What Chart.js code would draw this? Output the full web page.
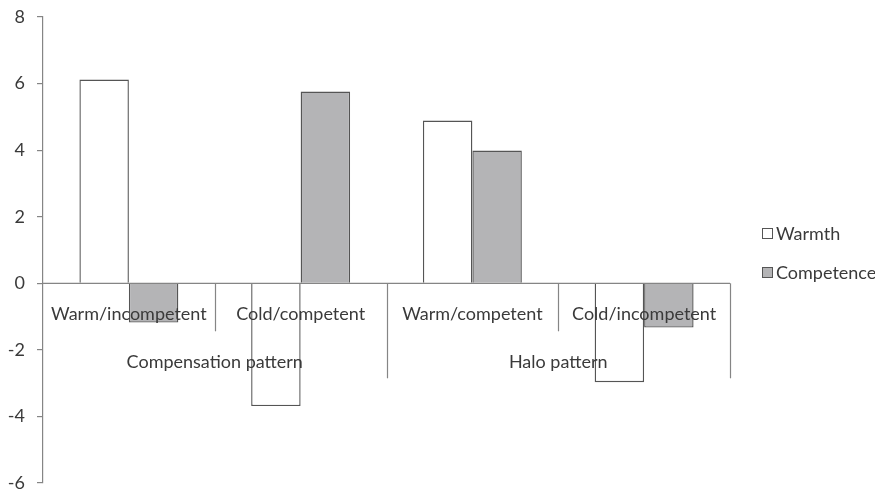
<!DOCTYPE html>
<html><head><meta charset="utf-8">
<script src="https://cdn.jsdelivr.net/npm/chart.js@4.4.1/dist/chart.umd.min.js"></script>
<style>html,body{margin:0;padding:0;background:#fff}#wrap{width:875px;height:493px;position:relative}</style>
</head><body><div id="wrap"><canvas id="c"></canvas></div>
<script>
const categories = ["Warm/incompetent", "Cold/competent", "Warm/competent", "Cold/incompetent"];
const groups = ["Compensation pattern", "Halo pattern"];
const warmth = [6.12, -3.69, 4.89, -2.97];
const competence = [-1.18, 5.76, 3.99, -1.33];
const yTicks = [-6, -4, -2, 0, 2, 4, 6, 8];

const FONT = "Lato, 'Open Sans', sans-serif";
const AXIS = '#858585';
const TEXT = '#3a3a3a';

const overlay = {
  id: 'overlay',
  afterDatasetsDraw(chart) {
    const {ctx, chartArea: a, scales: {x, y}} = chart;
    const y0 = y.getPixelForValue(0);
    ctx.save();
    ctx.strokeStyle = AXIS; ctx.lineWidth = 1.2;
    ctx.beginPath(); ctx.moveTo(a.left, y0); ctx.lineTo(a.right, y0); ctx.stroke();
    const n = categories.length;
    const cw = (a.right - a.left) / n;
    for (let i = 1; i <= n; i++) {
      const px = Math.round(a.left + cw * i) + 0.5;
      const long = (i % 2 === 0);
      ctx.beginPath(); ctx.moveTo(px, y0); ctx.lineTo(px, y0 + (long ? 95 : 48)); ctx.stroke();
    }
    ctx.fillStyle = TEXT;
    ctx.font = '18px ' + FONT;
    ctx.textAlign = 'center'; ctx.textBaseline = 'middle';
    categories.forEach((c, i) => ctx.fillText(c, x.getPixelForValue(i), y0 + 31));
    groups.forEach((g, gi) => {
      const cx = a.left + cw * (gi * 2 + 1);
      ctx.fillText(g, cx, y0 + 79);
    });
    const items = chart.data.datasets;
    ctx.textAlign = 'left';
    items.forEach((d, i) => {
      const ly = 234 + i * 39;
      ctx.fillStyle = d.backgroundColor; ctx.strokeStyle = '#555'; ctx.lineWidth = 1;
      ctx.fillRect(762.5, ly - 5.5, 10, 10); ctx.strokeRect(762.5, ly - 5.5, 10, 10);
      ctx.fillStyle = TEXT;
      ctx.fillText(d.label, 776, ly);
    });
    ctx.restore();
  }
};

new Chart(document.getElementById('c'), {
  type: 'bar',
  data: {
    labels: categories,
    datasets: [
      {label: 'Warmth', data: warmth, backgroundColor: '#ffffff', borderColor: '#555555', borderWidth: 1.4},
      {label: 'Competence', data: competence, backgroundColor: '#b4b4b6', borderColor: '#555555', borderWidth: 1.4}
    ]
  },
  options: {
    responsive: true, maintainAspectRatio: false, animation: false,
    devicePixelRatio: 1,
    layout: {padding: {top: 17, bottom: 10, left: 0, right: 145}},
    plugins: {legend: {display: false}, tooltip: {enabled: false}},
    datasets: {bar: {categoryPercentage: 0.576, barPercentage: 1.0}},
    scales: {
      x: {display: false},
      y: {
        min: -6, max: 8,
        afterBuildTicks(s) { s.ticks = yTicks.map(v => ({value: v})); },
        afterFit(s) { s.width = 43; s.paddingTop = 0; s.paddingBottom = 0; },
        border: {display: true, color: AXIS, width: 1.2},
        grid: {display: true, drawOnChartArea: false, drawTicks: true, tickLength: 6, color: AXIS, lineWidth: 1.2},
        ticks: {color: TEXT, font: {family: FONT, size: 18}, padding: 12}
      }
    }
  },
  plugins: [overlay]
});
</script>
</body></html>
